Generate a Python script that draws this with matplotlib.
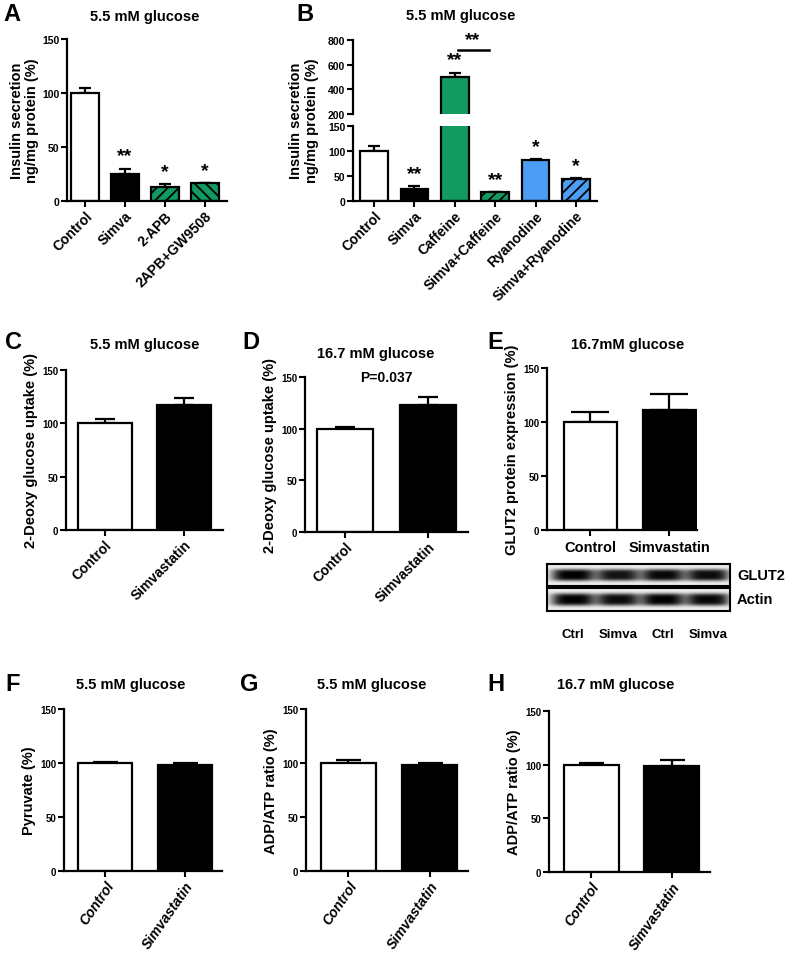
import numpy as np
import matplotlib.pyplot as plt

W, H = 785, 954
plt.rcParams['font.family'] = ['Liberation Sans', 'DejaVu Sans']
plt.rcParams['font.weight'] = 'bold'
plt.rcParams['axes.labelweight'] = 'bold'
plt.rcParams['hatch.linewidth'] = 1.3

GREEN = "#129a61"
BLUE = "#4b9ef3"

# A
a_groups = ["Control", "Simva", "2-APB", "2APB+GW9508"]
a_mean = [100, 25, 13, 16.5]
a_err = [4.5, 5, 2.5, 0.3]
a_stars = ["", "**", "*", "*"]
a_colors = ["white", "black", GREEN, GREEN]
a_hatch = [None, None, "///", "\\\\\\"]

# B
b_groups = ["Control", "Simva", "Caffeine", "Simva+Caffeine", "Ryanodine", "Simva+Ryanodine"]
b_mean = [100, 25, 496, 18, 82, 44]
b_err = [10, 4.5, 40, 0.5, 2, 1.2]
b_stars = ["", "**", "**", "**", "*", "*"]
b_colors = ["white", "black", GREEN, GREEN, BLUE, BLUE]
b_hatch = [None, None, None, "///", None, "///"]
b_pair = (2, 3)

# C - H
two = ["Control", "Simvastatin"]
c_mean, c_err = [100, 117], [4.5, 7]
d_mean, d_err = [100, 123], [2, 8]
e_mean, e_err = [100, 111], [9, 15]
f_mean, f_err = [100, 98.5], [1.3, 1.5]
g_mean, g_err = [100, 98.5], [3, 1.5]
h_mean, h_err = [100, 99], [1.5, 5.3]

# western blot
blot_lanes = ["Ctrl", "Simva", "Ctrl", "Simva"]
glut2_bands = [1.0, 0.92, 0.97, 0.95]
actin_bands = [1.0, 0.95, 1.0, 0.97]

fig = plt.figure(figsize=(W / 100, H / 100), dpi=100)


def make_ax(x0, x1, ytop, ybot):
    return fig.add_axes([x0 / W, 1 - ybot / H, (x1 - x0) / W, (ybot - ytop) / H])


def style(ax, ymin, ymax, step, size=7.5):
    ax.spines[['top', 'right']].set_visible(False)
    ax.spines[['left', 'bottom']].set_linewidth(1.6)
    ax.set_ylim(ymin, ymax)
    ax.set_yticks(np.arange(ymin, ymax + 1, step))
    ax.tick_params(width=1.5, length=4, labelsize=size, pad=1.5)


def bars(ax, mean, err, colors, hatches=None, cap=4):
    x = np.arange(len(mean))
    bs = ax.bar(x, mean, width=0.68, color=colors, edgecolor="black", linewidth=1.6, zorder=2)
    if hatches:
        for b, h in zip(bs, hatches):
            if h:
                b.set_hatch(h)
    ax.errorbar(x, mean, yerr=[np.zeros(len(err)), err], fmt="none", ecolor="black",
                elinewidth=1.6, capsize=cap, capthick=1.6, zorder=1)
    return x


def stars(ax, x, mean, err, marks, off=3):
    for xi, m, e, s in zip(x, mean, err, marks):
        if s:
            ax.annotate(s, (xi, m + e), xytext=(0, off), textcoords="offset points",
                        ha="center", va="bottom", fontsize=14)


def letter(s, x, y):
    fig.text(x / W, 1 - y / H, s, fontsize=17, fontweight="bold", va="top", ha="left")


def title(s, x, y):
    fig.text(x / W, 1 - y / H, s, fontsize=10.5, fontweight="bold", va="center", ha="center")


# ---- A
ax = make_ax(67, 227, 40, 202)
style(ax, 0, 150, 50)
x = bars(ax, a_mean, a_err, a_colors, a_hatch, cap=4)
stars(ax, x, a_mean, a_err, a_stars)
ax.set_xlim(-0.45, 3.55)
ax.set_xticks(x)
ax.set_xticklabels(a_groups, rotation=45, ha="right", rotation_mode="anchor", fontsize=10)
ax.set_ylabel("Insulin secretion\nng/mg protein (%)", fontsize=10.5, labelpad=2, linespacing=1.1)
letter("A", 3, 3)
title("5.5 mM glucose", 145, 17)

# ---- B (broken axis)
axl = make_ax(353, 597, 127, 202)
axu = make_ax(353, 597, 41, 115)
style(axl, 0, 150, 50)
style(axu, 200, 800, 200)
for a in (axl, axu):
    x = bars(a, b_mean, b_err, b_colors, b_hatch, cap=4)
    a.set_xlim(-0.52, 5.52)
axu.spines['bottom'].set_visible(False)
axu.tick_params(axis="x", bottom=False, labelbottom=False)
low = [m if m < 150 else np.nan for m in b_mean]
up = [m if m >= 150 else np.nan for m in b_mean]
stars(axl, x, low, b_err, b_stars)
stars(axu, x, up, b_err, b_stars)
top = (b_mean[b_pair[0]] + b_err[b_pair[0]]) * 1.34
axu.plot([b_pair[0] + 0.08, b_pair[1] - 0.15], [top, top], color="black", lw=1.8, clip_on=False)
axu.text(np.mean(b_pair) - 0.05, top + 15, "**", ha="center", va="bottom", fontsize=14)
axl.set_xticks(x)
axl.set_xticklabels(b_groups, rotation=45, ha="right", rotation_mode="anchor", fontsize=10)
fig.text(304 / W, 1 - 121 / H, "Insulin secretion\nng/mg protein (%)", rotation=90,
         fontsize=10.5, fontweight="bold", ha="center", va="center", linespacing=1.1)
letter("B", 296, 3)
title("5.5 mM glucose", 461, 16)


def two_panel(rect, mean, err, ylabel, cap, xlim, rot=45, italic=False, fs=10):
    ax = make_ax(*rect)
    style(ax, 0, 150, 50, size=7)
    x = bars(ax, mean, err, ["white", "black"], cap=cap)
    ax.set_xlim(*xlim)
    ax.set_xticks(x)
    if rot:
        ax.set_xticklabels(two, rotation=rot, ha="right", rotation_mode="anchor",
                           fontsize=fs, style="italic" if italic else "normal")
    else:
        ax.set_xticklabels(two, fontsize=fs)
    ax.set_ylabel(ylabel, fontsize=10.5, labelpad=3)
    return ax, x


# ---- C, D, E
two_panel((66, 223, 371, 531), c_mean, c_err, "2-Deoxy glucose uptake (%)", 7, (-0.49, 1.49))
letter("C", 5, 331)
title("5.5 mM glucose", 145, 345)

axd, x = two_panel((305, 468, 378, 533), d_mean, d_err, "2-Deoxy glucose uptake (%)", 7, (-0.49, 1.49))
axd.text(np.mean(x), 1.0, "P=0.037", transform=axd.get_xaxis_transform(), ha="center",
         va="center", fontsize=10)
letter("D", 242, 331)
title("16.7 mM glucose", 376, 354)

axe, x = two_panel((547, 697, 369, 531), e_mean, e_err, "GLUT2 protein expression (%)", 14,
                   (-0.55, 1.35), rot=0, fs=10.5)
axe.tick_params(axis="x", pad=3)
letter("E", 487, 331)
title("16.7mM glucose", 628, 345)

# western blot boxes


def blot(rect, bands):
    ax = make_ax(*rect)
    nx, ny = 360, 46
    xx = np.linspace(0, 1, nx)[None, :]
    yy = np.linspace(-1, 1, ny)[:, None]
    centers = np.linspace(0.142, 0.88, len(bands))
    img = np.full((ny, nx), 0.93)
    for c, k in zip(centers, bands):
        shape = np.exp(-((xx - c) / 0.118) ** 4) * np.exp(-(yy / 0.55) ** 4)
        img -= 0.93 * k * shape
    ax.imshow(np.clip(img, 0, 1), cmap="gray", vmin=0, vmax=1, aspect="auto",
              extent=[0, 1, 0, 1], interpolation="bilinear")
    ax.set_xticks([])
    ax.set_yticks([])
    for s in ax.spines.values():
        s.set_linewidth(1.5)
    return ax, centers


blot((547, 730, 565, 587), glut2_bands)
axa, centers = blot((547, 730, 589, 612), actin_bands)
fig.text(737 / W, 1 - 576 / H, "GLUT2", fontsize=10.5, fontweight="bold", va="center")
fig.text(737 / W, 1 - 600 / H, "Actin", fontsize=10.5, fontweight="bold", va="center")
for c, lab in zip(centers, blot_lanes):
    axa.text(c, -1.0, lab, transform=axa.transAxes, ha="center", va="center", fontsize=9.5)

# ---- F, G, H
two_panel((64, 222, 710, 872), f_mean, f_err, "Pyruvate (%)", 9, (-0.52, 1.47), rot=55, italic=True)
letter("F", 5, 673)
title("5.5 mM glucose", 131, 685)

two_panel((306, 468, 710, 872), g_mean, g_err, "ADP/ATP ratio (%)", 9, (-0.52, 1.47), rot=55, italic=True)
letter("G", 240, 673)
title("5.5 mM glucose", 372, 685)

two_panel((549, 710, 712, 873), h_mean, h_err, "ADP/ATP ratio (%)", 9, (-0.52, 1.47), rot=55, italic=True)
letter("H", 487, 673)
title("16.7 mM glucose", 616, 685)

fig.savefig("out.png", dpi=100)
